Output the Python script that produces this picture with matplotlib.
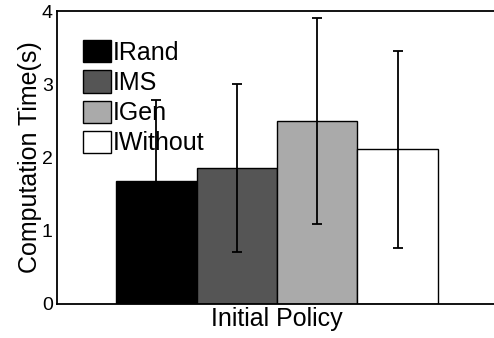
import matplotlib.pyplot as plt
import numpy as np

plt.rcParams['font.family'] = ['Liberation Sans', 'DejaVu Sans']

# mean computation time and spread for each initial policy
policies = ['IRand', 'IMS', 'IGen', 'IWithout']
times = [1.68, 1.86, 2.50, 2.11]
errors = [1.10, 1.15, 1.41, 1.34]
colors = ['#000000', '#555555', '#aaaaaa', '#ffffff']

fig = plt.figure(figsize=(4.94, 3.38), dpi=100)
ax = fig.add_axes([57 / 494, 34 / 338, 440 / 494, 293 / 338])

x = np.arange(len(policies)) - 1.5
for xi, t, e, c, name in zip(x, times, errors, colors, policies):
    ax.bar(xi, t, width=1.0, color=c, edgecolor='black', linewidth=1.0, label=name)
    ax.errorbar(xi, t, yerr=e, color='black', elinewidth=1.3, capsize=3.3,
                capthick=1.3)

ax.set_xlim(-2.733, 2.733)
ax.set_ylim(0, 4)
ax.set_yticks([0, 1, 2, 3, 4])
ax.set_xticks([])
ax.tick_params(axis='y', length=0, pad=3, labelsize=14)
for s in ax.spines.values():
    s.set_linewidth(1.3)

ax.set_ylabel('Computation Time(s)', fontsize=18, labelpad=0)
ax.set_xlabel('Initial Policy', fontsize=18, labelpad=2)

ax.legend(loc='upper left', bbox_to_anchor=(83 / 494, 1 - 40 / 338),
          bbox_transform=fig.transFigure, frameon=False, fontsize=18,
          borderpad=0, borderaxespad=0, handlelength=1.12, handleheight=1.0,
          handletextpad=0.06, labelspacing=0.22)

fig.savefig('out.png', dpi=100)
